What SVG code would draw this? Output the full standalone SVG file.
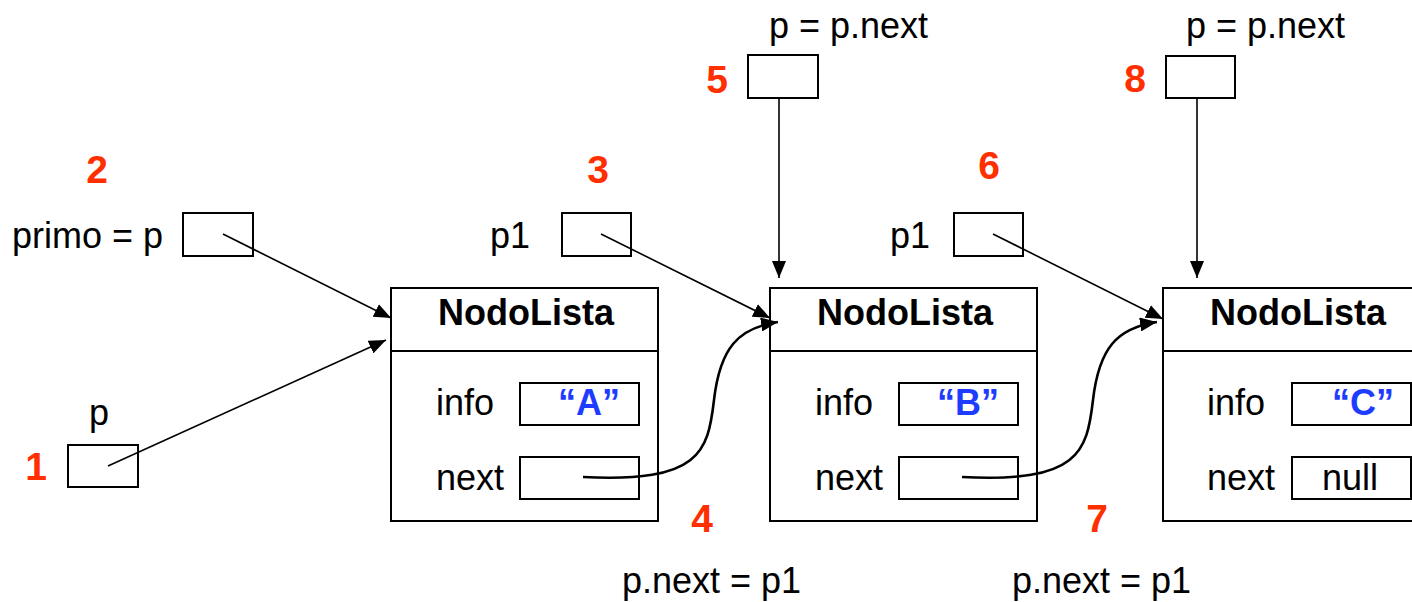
<svg xmlns="http://www.w3.org/2000/svg" width="1412" height="602" viewBox="0 0 1412 602">
  <style>
    .box { fill: #ffffff; stroke: #000000; stroke-width: 2; }
    .txt { font-family: "Liberation Sans", Arial, Helvetica, sans-serif; font-size: 36px; fill: #000000; }
    .title { font-family: "Liberation Sans", Arial, Helvetica, sans-serif; font-size: 36px; font-weight: bold; fill: #000000; }
    .val { font-family: "Liberation Sans", Arial, Helvetica, sans-serif; font-size: 36px; font-weight: bold; fill: #1e3cff; }
    .step { font-family: "Liberation Sans", Arial, Helvetica, sans-serif; font-size: 39px; font-weight: bold; fill: #ff2f00; }
    .link { fill: none; stroke: #000000; stroke-width: 1.6; }
    .curve { fill: none; stroke: #000000; stroke-width: 2.6; }
  </style>
  <defs>
    <marker id="arrow" markerUnits="userSpaceOnUse" markerWidth="18" markerHeight="14" refX="17" refY="7" orient="auto">
      <path d="M0,0 L17,7 L0,14 Z" fill="#000000"/>
    </marker>
  </defs>

  <rect width="1412" height="602" fill="#ffffff"/>

  <!-- list nodes -->
  <g id="node-a">
    <rect class="box" x="391" y="288" width="267" height="233"/>
    <line class="box" x1="391" y1="351" x2="658" y2="351"/>
    <text class="title" x="526" y="325" text-anchor="middle">NodoLista</text>
    <text class="txt" x="436" y="415">info</text>
    <rect class="box" x="520" y="383" width="119" height="42"/>
    <text class="val" x="589" y="415" text-anchor="middle">“A”</text>
    <text class="txt" x="436" y="490">next</text>
    <rect class="box" x="520" y="457" width="119" height="42"/>
  </g>

  <g id="node-b">
    <rect class="box" x="770" y="288" width="267" height="233"/>
    <line class="box" x1="770" y1="351" x2="1037" y2="351"/>
    <text class="title" x="905" y="325" text-anchor="middle">NodoLista</text>
    <text class="txt" x="815" y="415">info</text>
    <rect class="box" x="899" y="383" width="119" height="42"/>
    <text class="val" x="968" y="415" text-anchor="middle">“B”</text>
    <text class="txt" x="815" y="490">next</text>
    <rect class="box" x="899" y="457" width="119" height="42"/>
  </g>

  <g id="node-c">
    <rect class="box" x="1163" y="288" width="267" height="233"/>
    <line class="box" x1="1163" y1="351" x2="1430" y2="351"/>
    <text class="title" x="1298" y="325" text-anchor="middle">NodoLista</text>
    <text class="txt" x="1207" y="415">info</text>
    <rect class="box" x="1292" y="383" width="119" height="42"/>
    <text class="val" x="1363" y="415" text-anchor="middle">“C”</text>
    <text class="txt" x="1207" y="490">next</text>
    <rect class="box" x="1292" y="457" width="119" height="42"/>
    <text class="txt" x="1350" y="490" text-anchor="middle">null</text>
  </g>

  <!-- pointer variables -->
  <g id="var-p">
    <text class="txt" x="99" y="425" text-anchor="middle">p</text>
    <rect class="box" x="68" y="445" width="70" height="42"/>
    <text class="step" x="36" y="480" text-anchor="middle">1</text>
  </g>

  <g id="var-primo">
    <text class="step" x="97" y="183" text-anchor="middle">2</text>
    <text class="txt" x="12" y="248">primo = p</text>
    <rect class="box" x="183" y="213" width="70" height="43"/>
  </g>

  <g id="var-p1-first">
    <text class="step" x="598" y="183" text-anchor="middle">3</text>
    <text class="txt" x="490" y="248">p1</text>
    <rect class="box" x="562" y="213" width="69" height="43"/>
  </g>

  <g id="step-4">
    <text class="step" x="702" y="532" text-anchor="middle">4</text>
    <text class="txt" x="622" y="593">p.next = p1</text>
  </g>

  <g id="var-p-second">
    <text class="txt" x="769" y="38">p = p.next</text>
    <text class="step" x="717" y="93" text-anchor="middle">5</text>
    <rect class="box" x="748" y="55" width="70" height="43"/>
  </g>

  <g id="var-p1-second">
    <text class="step" x="989" y="179" text-anchor="middle">6</text>
    <text class="txt" x="890" y="248">p1</text>
    <rect class="box" x="954" y="213" width="69" height="43"/>
  </g>

  <g id="step-7">
    <text class="step" x="1097" y="532" text-anchor="middle">7</text>
    <text class="txt" x="1012" y="593">p.next = p1</text>
  </g>

  <g id="var-p-third">
    <text class="txt" x="1186" y="38">p = p.next</text>
    <text class="step" x="1135" y="92" text-anchor="middle">8</text>
    <rect class="box" x="1166" y="56" width="69" height="42"/>
  </g>

  <!-- references -->
  <g id="connectors">
    <line class="link" x1="108" y1="466" x2="386" y2="340" marker-end="url(#arrow)"/>
    <line class="link" x1="223" y1="234" x2="391" y2="318" marker-end="url(#arrow)"/>
    <line class="link" x1="601" y1="234" x2="770" y2="318" marker-end="url(#arrow)"/>
    <line class="link" x1="993" y1="234" x2="1163" y2="319" marker-end="url(#arrow)"/>
    <line class="link" x1="779" y1="98" x2="779" y2="278" marker-end="url(#arrow)"/>
    <line class="link" x1="1197" y1="98" x2="1197" y2="278" marker-end="url(#arrow)"/>
    <path class="curve" d="M583,477 C700,483 708,452 714,400 C720,348 738,328 778,322" marker-end="url(#arrow)"/>
    <path class="curve" d="M962,477 C1079,483 1087,452 1093,400 C1099,348 1117,328 1157,322" marker-end="url(#arrow)"/>
  </g>
</svg>
